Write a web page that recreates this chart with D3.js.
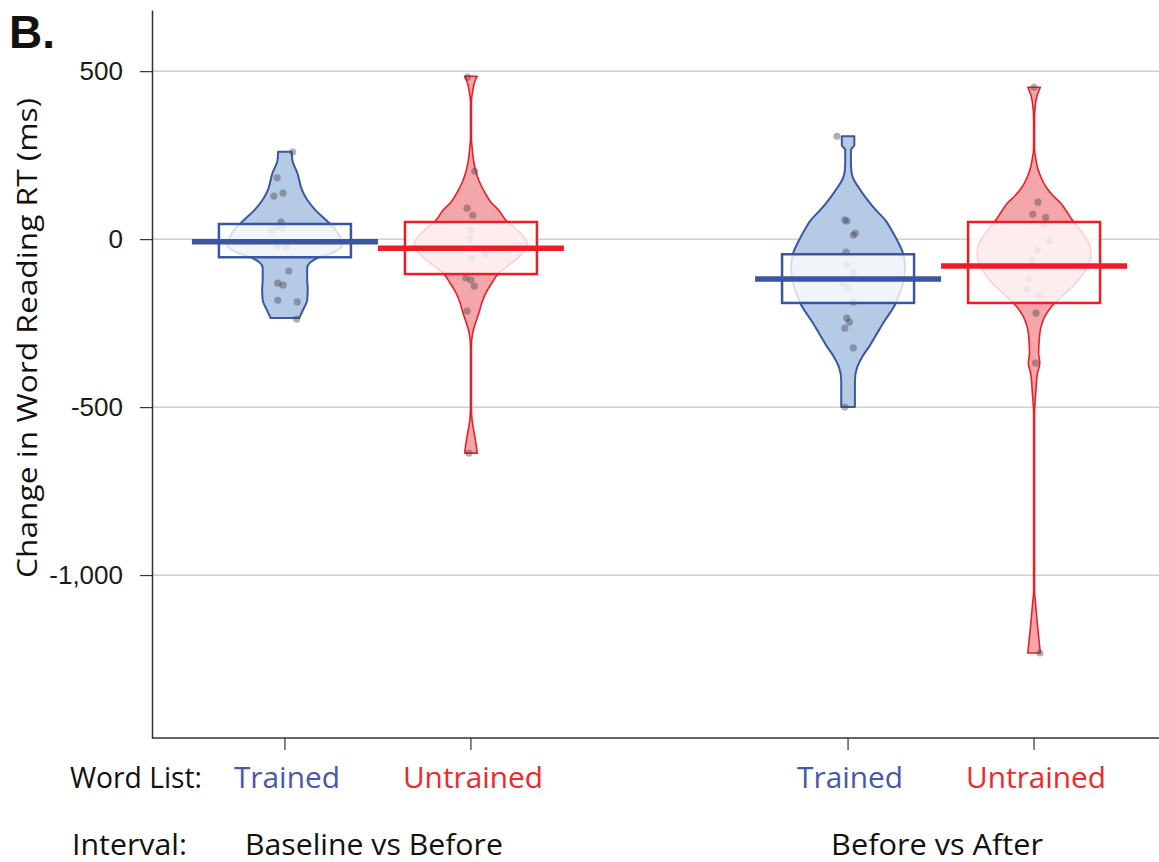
<!DOCTYPE html>
<html>
<head>
<meta charset="utf-8">
<script src="https://cdn.jsdelivr.net/npm/d3@7"></script>
<style>
body { margin: 0; background: #fff; }
</style>
</head>
<body>
<div id="chart"></div>
<script>
// ---- data ----
const intervals = ["Baseline vs Before", "Before vs After"];
const wordLists = ["Trained", "Untrained"];
const yTicks = [500, 0, -500, -1000];
const yTickLabels = ["500", "0", "-500", "-1,000"];

// order: BvB Trained, BvB Untrained, BvA Trained, BvA Untrained
const means = [-8, -27, -119, -80];
const boxTop = [45, 51, -45, 51];
const boxBottom = [-54, -104, -190, -190];

// violin outlines: [change in ms, relative density in % of widest]
const violinBvBTrained = [[260,12],[235,13],[196,22],[146,30],[117,39],[87,53],[57,72],[30,88],[0,98],[-20,100],[-40,84],[-57,56],[-70,44],[-85,39],[-120,39],[-150,40],[-182,39],[-210,32],[-235,25]];
const violinBvBUntrained = [[485,11],[470,7],[440,3],[410,0.8],[300,0.8],[274,2],[240,4],[205,8],[170,15],[137,25],[110,35],[86,49],[57,61],[30,79],[0,96],[-20,100],[-50,86],[-80,65],[-101,49],[-130,37],[-161,26],[-190,19],[-220,14],[-250,8],[-280,3],[-320,0.8],[-500,0.8],[-539,2],[-570,5],[-600,8],[-637,11]];
const violinBvATrained = [[306,11],[280,11],[265,5],[230,5],[200,6],[181,9],[155,18],[126,30],[90,47],[57,65],[25,77],[-3,86],[-40,96],[-80,100],[-120,98],[-160,91],[-200,81],[-241,65],[-280,51],[-320,37],[-350,25],[-381,16],[-420,12],[-500,12]];
const violinBvAUntrained = [[452,11],[425,5],[395,2],[360,0.8],[270,0.8],[240,3],[214,6],[185,12],[155,21],[130,33],[107,47],[80,58],[57,67],[20,84],[-20,98],[-50,100],[-90,91],[-130,74],[-170,49],[-202,30],[-230,19],[-262,12],[-300,9],[-339,8],[-369,10],[-399,6],[-458,3],[-518,0.8],[-1050,0.8],[-1074,2],[-1150,6],[-1232,11]];

// individual participants: [change in ms, horizontal jitter -1..1]
const pointsBvBTrained = [[259,.6],[182,-.6],[137,-.15],[128,-.85],[51,-.3],[36,-.6],[33,-.2],[25,-1],[-21,-.6],[-24,.1],[-95,.3],[-131,-.55],[-137,-.15],[-182,-.55],[-187,.95],[-238,.9]];
const pointsBvBUntrained = [[482,-.25],[202,.3],[92,-.3],[71,.15],[27,0],[0,-.1],[-45,1.1],[-57,0],[-116,-.4],[-122,0],[-140,.25],[-214,-.3],[-637,-.15]];
const pointsBvATrained = [[306,-.85],[57,-.25],[54,-.1],[18,.55],[12,.4],[-39,-.15],[-77,-.1],[-101,.4],[-131,-.4],[-146,0],[-187,.4],[-235,-.1],[-247,.1],[-265,-.25],[-324,.4],[-500,-.25]];
const pointsBvAUntrained = [[452,0],[110,.3],[74,-.1],[65,.9],[44,.75],[-6,1.2],[-33,.25],[-62,-.15],[-119,-.4],[-149,-.55],[-167,.3],[-220,.15],[-369,.1],[-1232,.45]];

const violins = [violinBvBTrained, violinBvBUntrained, violinBvATrained, violinBvAUntrained];
const points = [pointsBvBTrained, pointsBvBUntrained, pointsBvATrained, pointsBvAUntrained];

const strokeColors = ["#3a55a5", "#ee1d25"];
const fillColors = ["#b5cae5", "#f5a6ab"];
const labelColors = ["#4458ad", "#f0282a"];

// ---- layout ----
const margin = { top: 10, right: 0, bottom: 124, left: 152 };
const W = 1159, H = 862;
const width = W - margin.left - margin.right,
    height = H - margin.top - margin.bottom;

const svgRoot = d3.select("#chart").append("svg")
    .attr("width", W)
    .attr("height", H);

const svg = svgRoot.append("g")
    .attr("transform", "translate(" + margin.left + "," + margin.top + ")");

const y = d3.scaleLinear()
    .domain([-1485, 682])
    .range([height, 0]);

const xOuter = d3.scalePoint()
    .domain(intervals)
    .range([8, width])
    .padding(0.387);

const xInner = d3.scalePoint()
    .domain(wordLists)
    .range([-93, 93]);

const densityW = d3.scaleLinear().domain([0, 100]).range([0, 57]);
const jitter = d3.scaleLinear().domain([-1, 1]).range([-13, 13]);

const boxHalf = 66, meanHalf = 93;

const groups = [];
intervals.forEach((iv, i) => {
    wordLists.forEach((wl, j) => {
        const k = i * 2 + j;
        groups.push({
            interval: iv, list: wl, li: j,
            cx: xOuter(iv) + xInner(wl),
            violin: violins[k], points: points[k],
            mean: means[k], top: boxTop[k], bottom: boxBottom[k]
        });
    });
});

// gridlines
svg.append("g")
    .selectAll("line")
    .data(yTicks)
    .join("line")
    .attr("x1", 0)
    .attr("x2", width)
    .attr("y1", d => y(d))
    .attr("y2", d => y(d))
    .style("stroke", "#c4c4c4")
    .style("stroke-width", 1.2);

// y axis
const yAxis = d3.axisLeft(y)
    .tickValues(yTicks)
    .tickFormat((d, i) => yTickLabels[i])
    .tickSizeInner(12)
    .tickSizeOuter(0)
    .tickPadding(17);

const yAxisG = svg.append("g")
    .attr("class", "y-axis axis")
    .call(yAxis);
yAxisG.select(".domain").style("stroke", "#333").style("stroke-width", 1.5);
yAxisG.selectAll(".tick line").style("stroke", "#333").style("stroke-width", 1.2);
yAxisG.selectAll("text")
    .style("font-family", "'Liberation Sans', Arial, sans-serif")
    .style("font-size", "26px")
    .style("fill", "#1a1a1a");

// x axis
svg.append("line")
    .attr("x1", 0).attr("x2", width)
    .attr("y1", height).attr("y2", height)
    .style("stroke", "#333").style("stroke-width", 1.5);
svg.append("g")
    .selectAll("line")
    .data(groups)
    .join("line")
    .attr("x1", d => d.cx).attr("x2", d => d.cx)
    .attr("y1", height).attr("y2", height + 12)
    .style("stroke", "#333").style("stroke-width", 1.2);

// violins, points, boxes, means
const area = d3.area()
    .y(d => y(d[0]))
    .curve(d3.curveMonotoneY);

groups.forEach(g => {
    const gg = svg.append("g").attr("class", "group");
    gg.append("path")
        .datum(g.violin)
        .attr("d", area.x0(d => g.cx - densityW(d[1])).x1(d => g.cx + densityW(d[1])))
        .style("fill", fillColors[g.li])
        .style("stroke", strokeColors[g.li])
        .style("stroke-width", g.li === 0 ? 2 : 1.6)
        .style("stroke-linejoin", "round");

    gg.selectAll("circle")
        .data(g.points)
        .join("circle")
        .attr("cx", d => g.cx + jitter(d[1]))
        .attr("cy", d => y(d[0]))
        .attr("r", 3.6)
        .style("fill", "#444")
        .style("fill-opacity", 0.42);

    gg.append("rect")
        .attr("x", g.cx - boxHalf)
        .attr("width", 2 * boxHalf)
        .attr("y", y(g.top))
        .attr("height", y(g.bottom) - y(g.top))
        .style("fill", "#fff")
        .style("fill-opacity", 0.8)
        .style("stroke", strokeColors[g.li])
        .style("stroke-width", 2.5);

    gg.append("line")
        .attr("x1", g.cx - meanHalf)
        .attr("x2", g.cx + meanHalf)
        .attr("y1", y(g.mean))
        .attr("y2", y(g.mean))
        .style("stroke", strokeColors[g.li])
        .style("stroke-width", 5.5);
});

// panel letter
svgRoot.append("text")
    .attr("x", 9)
    .attr("y", 48)
    .style("font-family", "'Liberation Sans', Arial, sans-serif")
    .style("font-weight", "bold")
    .style("font-size", "46px")
    .style("fill", "#111")
    .text("B.");

const labelFont = "'Open Sans', 'Noto Sans', sans-serif";

// y title
svgRoot.append("text")
    .attr("transform", "translate(37,338) rotate(-90)")
    .attr("text-anchor", "middle")
    .attr("textLength", 480)
    .attr("lengthAdjust", "spacingAndGlyphs")
    .style("font-family", labelFont)
    .style("font-size", "28px")
    .style("fill", "#111")
    .text("Change in Word Reading RT (ms)");

// bottom labels
const row1 = 788, row2 = 855;
svgRoot.append("text")
    .attr("x", 70).attr("y", row1)
    .attr("textLength", 132).attr("lengthAdjust", "spacingAndGlyphs")
    .style("font-family", labelFont).style("font-size", "29px").style("fill", "#111")
    .text("Word List:");
svgRoot.append("text")
    .attr("x", 72).attr("y", row2)
    .attr("textLength", 115).attr("lengthAdjust", "spacingAndGlyphs")
    .style("font-family", labelFont).style("font-size", "29px").style("fill", "#111")
    .text("Interval:");

svgRoot.append("g")
    .selectAll("text")
    .data(groups)
    .join("text")
    .attr("x", d => margin.left + d.cx + 2)
    .attr("y", row1)
    .attr("text-anchor", "middle")
    .attr("textLength", d => d.list === "Trained" ? 106 : 140)
    .attr("lengthAdjust", "spacingAndGlyphs")
    .style("font-family", labelFont).style("font-size", "29px")
    .style("fill", d => labelColors[d.li])
    .text(d => d.list);

svgRoot.append("g")
    .selectAll("text")
    .data(intervals)
    .join("text")
    .attr("x", d => margin.left + xOuter(d) - 4)
    .attr("y", row2)
    .attr("text-anchor", "middle")
    .attr("textLength", (d, i) => i === 0 ? 258 : 212)
    .attr("lengthAdjust", "spacingAndGlyphs")
    .style("font-family", labelFont).style("font-size", "29px").style("fill", "#111")
    .text(d => d);
</script>
</body>
</html>
